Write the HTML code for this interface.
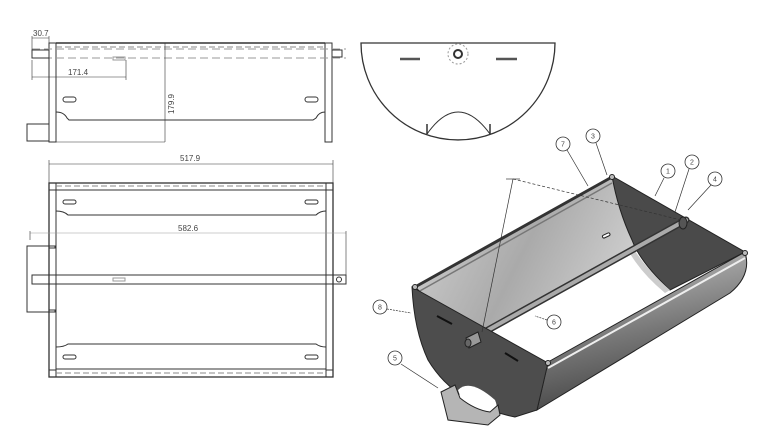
<!DOCTYPE html>
<html><head><meta charset="utf-8"><style>
html,body{margin:0;padding:0;background:#fff;}
svg{display:block;}
text{font-family:"Liberation Sans",sans-serif;fill:#444;}
</style></head><body>
<svg width="765" height="441" viewBox="0 0 765 441" xmlns="http://www.w3.org/2000/svg">
<defs>
<linearGradient id="bp" x1="0" y1="0" x2="1" y2="0.3"><stop offset="0" stop-color="#d4d4d4"/><stop offset="0.5" stop-color="#aaaaaa"/><stop offset="1" stop-color="#d8d8d8"/></linearGradient>
<linearGradient id="fr" x1="0" y1="0" x2="0.3" y2="1"><stop offset="0" stop-color="#d0d0d0"/><stop offset="0.6" stop-color="#777"/><stop offset="1" stop-color="#444"/></linearGradient>
</defs>
<g fill="none" stroke="#333" stroke-width="1">
<rect x="49" y="43" width="7" height="99"/>
<rect x="325" y="43" width="7" height="99"/>
<line x1="56" y1="43" x2="325" y2="43" stroke-width="1.5"/>
<line x1="56" y1="47" x2="325" y2="47" stroke-dasharray="6,3" stroke="#888"/>
<line x1="32" y1="49" x2="346" y2="49" stroke-dasharray="8,4" stroke="#999"/>
<line x1="32" y1="58" x2="346" y2="58" stroke-dasharray="8,4" stroke="#999"/>
<rect x="32" y="50" width="17" height="8"/>
<path d="M332 50 H342 V57 H332"/>
<path d="M56 112 Q64 112 67 118 L69 120 H313 L316 118 Q319 112 325 112"/>
<rect x="63" y="97" width="13" height="5" rx="2.5"/>
<rect x="305" y="97" width="13" height="5" rx="2.5"/>
<rect x="27" y="124" width="22" height="17"/>
<rect x="113" y="57" width="12" height="3" stroke="#999"/>
<line x1="32" y1="36" x2="32" y2="50" stroke-width="0.6"/>
<line x1="49" y1="36" x2="49" y2="43" stroke-width="0.6"/>
<line x1="32" y1="38" x2="49" y2="38" stroke-width="0.6"/>
<line x1="32" y1="77" x2="126" y2="77" stroke-width="0.6"/>
<line x1="126" y1="60" x2="126" y2="80" stroke-width="0.6"/>
<line x1="32" y1="60" x2="32" y2="80" stroke-width="0.6"/>
<line x1="165" y1="43" x2="165" y2="142" stroke-width="0.6"/>
<line x1="56" y1="142" x2="165" y2="142" stroke-width="0.6"/>
<line x1="49" y1="164" x2="333" y2="164" stroke-width="0.6"/>
<line x1="49" y1="160" x2="49" y2="183" stroke-width="0.6"/>
<line x1="333" y1="160" x2="333" y2="183" stroke-width="0.6"/>
<rect x="49" y="183" width="284" height="194" stroke-width="1.3"/>
<line x1="56" y1="183" x2="56" y2="377"/>
<line x1="326" y1="183" x2="326" y2="377"/>
<rect x="49" y="183" width="7" height="7"/><rect x="326" y="183" width="7" height="7"/>
<rect x="49" y="370" width="7" height="7"/><rect x="326" y="370" width="7" height="7"/>
<line x1="56" y1="186" x2="326" y2="186" stroke-dasharray="6,3" stroke="#888"/>
<line x1="56" y1="190" x2="326" y2="190"/>
<line x1="56" y1="373" x2="326" y2="373" stroke-dasharray="6,3" stroke="#888"/>
<line x1="56" y1="369" x2="326" y2="369"/>
<path d="M56 211 Q64 211 68 215 H316 Q320 211 326 211"/>
<path d="M56 347 Q64 347 68 344 H316 Q320 347 326 347"/>
<rect x="63" y="200" width="13" height="4" rx="2"/><rect x="305" y="200" width="13" height="4" rx="2"/>
<rect x="63" y="355" width="13" height="4" rx="2"/><rect x="305" y="355" width="13" height="4" rx="2"/>
<line x1="30" y1="233" x2="346" y2="233" stroke-width="0.5" stroke="#999"/>
<line x1="30" y1="231" x2="30" y2="240" stroke-width="0.6"/>
<line x1="346" y1="231" x2="346" y2="278" stroke-width="0.6"/>
<rect x="27" y="246" width="22" height="66"/>
<rect x="49" y="246" width="6" height="2"/><rect x="49" y="310" width="6" height="2"/>
<rect x="32" y="275" width="314" height="9"/>
<circle cx="339" cy="279.5" r="2.5"/>
<rect x="113" y="278" width="12" height="3" stroke="#999"/>
<path d="M361 43 H555 A97 97 0 0 1 361 43 Z" stroke-width="1.3"/>
<path d="M427 134 Q458 90 490 134"/>
<line x1="427" y1="124" x2="427" y2="134" stroke-width="1.5"/>
<line x1="490" y1="124" x2="490" y2="134" stroke-width="1.5"/>
<circle cx="458" cy="54" r="10" stroke="#999" stroke-dasharray="2,2"/>
<circle cx="458" cy="54" r="4" stroke-width="2"/>
<line x1="400" y1="59" x2="420" y2="59" stroke-width="2.5" stroke="#555"/>
<line x1="496" y1="59" x2="517" y2="59" stroke-width="2.5" stroke="#555"/>
</g>
<g font-size="8">
<text x="33" y="36">30.7</text>
<text x="68" y="75">171.4</text>
<text x="174" y="104" transform="rotate(-90 174 104)" text-anchor="middle">179.9</text>
<text x="180" y="161">517.9</text>
<text x="178" y="231">582.6</text>
</g>
<g stroke="#222" stroke-width="1">
<path d="M415 287 L612 177 Q625 225 660 240 L683 222 L482 335 L470 338 Z" fill="url(#bp)"/>
<path d="M612 176 L745 252 L670 290 Q640 262 632 240 Q618 210 612 176 Z" fill="#4a4a4a"/>
<path d="M632 246 Q645 268 670 290 L665 293 Q640 272 628 250 Z" fill="#ccc" stroke="none"/>
<path d="M548 362 L745 252 Q752 275 730 293 L537 410 Z" fill="url(#fr)"/>
<line x1="548" y1="368" x2="745" y2="258" stroke="#eee" stroke-width="2"/>
<line x1="415" y1="287" x2="612" y2="177" stroke-width="3" stroke="#333"/>
<line x1="418" y1="292" x2="612" y2="183" stroke="#777" stroke-width="1.5"/>
<line x1="470" y1="340" x2="686" y2="220" stroke="#333" stroke-width="7" stroke-linecap="round"/>
<line x1="470" y1="340" x2="686" y2="220" stroke="#aaa" stroke-width="4" stroke-linecap="round"/>
<ellipse cx="683" cy="223" rx="4" ry="6" fill="#555"/>
<path d="M412 287 L548 363 L537 410 L515 417 Q455 405 428 360 Q414 330 412 287 Z" fill="#4d4d4d"/>
<path d="M466 338 L478 332 L481 342 L469 348 Z" fill="#999"/>
<ellipse cx="468" cy="343" rx="3" ry="4" fill="#666"/>
<path d="M458 390 Q470 378 495 400 Q500 412 492 420 Q465 415 458 390 Z" fill="#fff" stroke="none"/>
<path d="M441 392 L455 385 L460 398 Q475 410 490 412 L498 405 L500 415 L488 425 L448 420 Z" fill="#b5b5b5"/>
<rect x="602" y="234" width="8" height="3" rx="1.5" fill="#fff" transform="rotate(-25 606 235)"/>
<line x1="437" y1="316" x2="452" y2="324" stroke="#111" stroke-width="2"/>
<line x1="505" y1="353" x2="518" y2="361" stroke="#111" stroke-width="2"/>
<circle cx="415" cy="287" r="2.5" fill="#bbb"/>
<circle cx="612" cy="177" r="2.5" fill="#bbb"/>
<circle cx="745" cy="253" r="2.5" fill="#bbb"/>
<circle cx="548" cy="363" r="2.5" fill="#bbb"/>
</g>
<g stroke="#333" stroke-width="0.7" fill="none">
<line x1="513" y1="179" x2="681" y2="220" stroke-dasharray="3,2"/>
<line x1="513" y1="179" x2="482" y2="332"/>
<line x1="506" y1="179" x2="520" y2="179"/>
<line x1="567" y1="150" x2="588" y2="186"/>
<line x1="596" y1="143" x2="607" y2="175"/>
<line x1="664" y1="178" x2="655" y2="196"/>
<line x1="689" y1="169" x2="675" y2="212"/>
<line x1="711" y1="185" x2="688" y2="210"/>
<line x1="387" y1="309" x2="411" y2="313" stroke-dasharray="2,1"/>
<line x1="547" y1="320" x2="535" y2="316" stroke-dasharray="2,1"/>
<line x1="401" y1="364" x2="438" y2="388"/>
</g>
<g stroke="#333" stroke-width="0.8" fill="#fff">
<circle cx="563" cy="144" r="7"/><circle cx="593" cy="136" r="7"/>
<circle cx="668" cy="171" r="7"/><circle cx="692" cy="162" r="7"/>
<circle cx="715" cy="179" r="7"/><circle cx="380" cy="307" r="7"/>
<circle cx="554" cy="322" r="7"/><circle cx="395" cy="358" r="7"/>
</g>
<g font-size="7" text-anchor="middle">
<text x="563" y="146.5">7</text><text x="593" y="138.5">3</text>
<text x="668" y="173.5">1</text><text x="692" y="164.5">2</text>
<text x="715" y="181.5">4</text><text x="380" y="309.5">8</text>
<text x="554" y="324.5">6</text><text x="395" y="360.5">5</text>
</g>
</svg>
</body></html>
